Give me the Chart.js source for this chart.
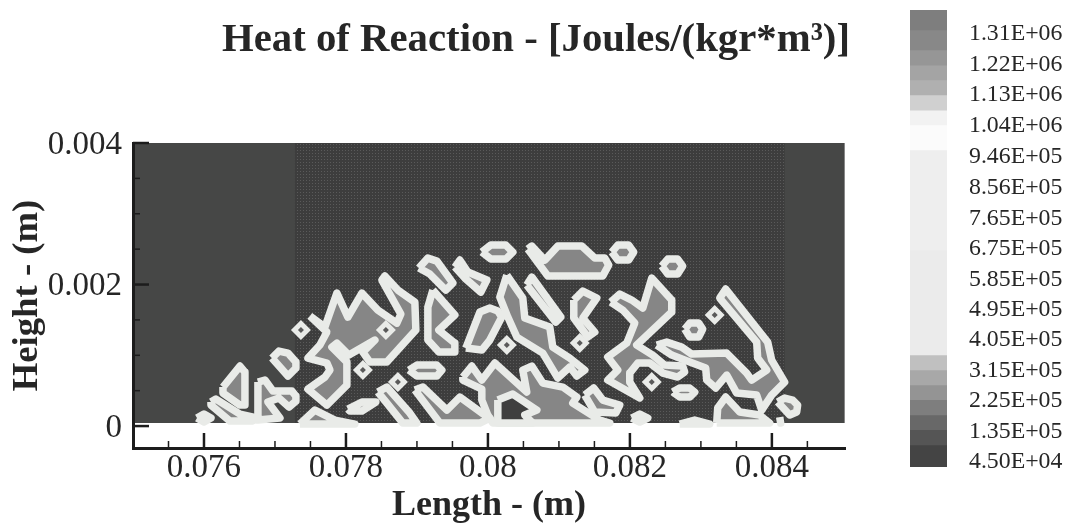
<!DOCTYPE html>
<html lang="en">
<head>
<meta charset="utf-8" />
<title>Heat of Reaction</title>
<script src="https://cdn.jsdelivr.net/npm/chart.js@4/dist/chart.umd.js"></script>
<style>
  html, body { margin: 0; background: #fff; }
  canvas { position: absolute; top: 0; filter: blur(0.5px); }
  #field { left: 0; }
  #bar { left: 910px; }
</style>
</head>
<body>
<canvas id="field" width="1076" height="524"></canvas>
<canvas id="bar" width="166" height="524"></canvas>
<script>
// axis values
const xTicks = [0.076, 0.078, 0.08, 0.082, 0.084];
const xTickLabels = ['0.076', '0.078', '0.08', '0.082', '0.084'];
const xMinor = [0.0755, 0.0765, 0.077, 0.0775, 0.0785, 0.079, 0.0795, 0.0805, 0.081, 0.0815, 0.0825, 0.083, 0.0835, 0.0845];
const yTicks = [0, 0.002, 0.004];
const yTickLabels = ['0', '0.002', '0.004'];
const yMinor = [0.0005, 0.001, 0.0015, 0.0025, 0.003, 0.0035];

// colour bar levels, top to bottom
const levels = [1310000, 1220000, 1130000, 1040000, 946000, 856000, 765000, 675000, 585000, 495000, 405000, 315000, 225000, 135000, 45000];
const levelLabels = ['1.31E+06', '1.22E+06', '1.13E+06', '1.04E+06', '9.46E+05', '8.56E+05', '7.65E+05', '6.75E+05', '5.85E+05', '4.95E+05', '4.05E+05', '3.15E+05', '2.25E+05', '1.35E+05', '4.50E+04'];
const bandEdges = [1378000, 1319000, 1260000, 1215000, 1171000, 1127000, 1082000, 1038000, 964000, 669000, 358000, 314000, 270000, 226000, 181000, 137000, 92000, 27000];
const bandColors = ['#7e7e7e', '#888888', '#969696', '#a4a4a4', '#b0b0b0', '#d0d0d0', '#f2f2f2', '#fbfbfb', '#eeeeee', '#ebebeb', '#c0c0c0', '#a8a8a8', '#949494', '#7e7e7e', '#686868', '#555555', '#444444'];

// contour field, in mesh steps from x=0.075, y=0
const stepX = 0.0001408;
const stepY = 0.0001413;

// contour outlines as flat i,j lists
const upperLeft = [
  [9,3.9, 10.7,6, 11.2,5.4, 11.2,2.1, 10.7,2.1, 9,3.3],
  [7.8,2.4, 8.3,2.7, 10.7,1.2, 12.5,.8, 11.9,.5, 9.7,.5, 7.8,2.1],
  [13.9,6.8, 14.6,7.5, 15.5,7.3, 16.3,6.4, 16.3,5.8, 15.5,5],
  [12.5,4.4, 13.2,4.6, 14,3.5, 15.9,3.5, 16.3,3, 16.3,2.5, 15.6,1.9, 14.6,2.8, 13.5,2.4, 14.7,.8, 12.5,.6],
  [17.7,11, 19.2,9.9, 20.4,13.3, 21.5,10.9, 22.9,13.3, 24.5,11.6, 26.4,10.3, 26.8,11.2, 24.9,14.6, 25.2,15, 26.5,13.6, 28.2,12.4, 28.3,9.6, 25.4,6.4, 23.7,6.4, 23,7.4, 24.2,8.6, 21.6,7.1, 20.4,8.3, 19.9,7.9, 21.4,6.4, 21.4,4.1, 19.4,2.1, 17.5,3.7, 19.2,4.9, 19.7,5.6, 19.4,6.3, 17.5,6.8, 18.7,8.1, 19.4,9.4],
  [21.5,1.7, 22.9,2.4, 24.3,2.4, 22.9,1.5, 21.7,1.5],
  [16.7,.2, 18.2,1.6, 20.2,.6, 22.2,.2],
  [24.5,3.4, 25.4,3.9, 27.7,1.3, 28.4,.3, 27,.3, 25.4,2.3],
  [28.2,3.6, 29,3.9, 31.4,1.6, 32.7,2.9, 34.9,1.3, 35.7,.8, 34.7,.3, 30.7,.3],
  [30,13.6, 32.2,11.1, 30.6,9.6, 32.2,8.3, 32.2,7.4, 30.6,7.4, 29.5,8.6, 29.5,11.9],
  [28.6,15.8, 29.5,16.8, 30.4,16.5, 32,14.3, 31.3,13.6, 29.7,15.2],
  [32.2,15.9, 32.7,16.6, 33.5,15.4, 35.4,14.6, 34.8,13.4, 33.2,14.8],
  [27.6,5.6, 28.4,6.1, 30.4,6.1, 30.9,5.6, 30.4,5, 28.4,5],
  [6.4,.8, 7.1,1.2, 7.8,.8, 7.1,.4]
];
const middle = [
  [34.9,17.4, 35.8,18.1, 37.3,18.1, 38,17.4, 37.3,16.7, 35.8,16.7],
  [39.5,17.7, 39.9,18, 41.2,16.6, 42.5,18, 44.9,18, 46.2,16.8, 47.2,16.8, 47.6,16.1, 47,15, 41.5,15],
  [47.9,17.4, 48.5,18.1, 49.6,18.1, 50.1,17.4, 49.6,16.6, 48.5,16.6],
  [37.4,15.1, 39,12.8, 39.2,10.8, 41.7,9.9, 42,7.9, 43.7,6.8, 45.2,5.6, 44.4,5, 43.7,5.9, 42.5,4.8, 41,7.3, 38.4,8.9, 37.5,10.9, 36.7,12.9],
  [39.4,14.1, 39.9,14.9, 42.8,10.9, 42.3,10.4],
  [44.1,12.6, 45,13.5, 46.4,12.8, 45,10.8, 46.2,9.4, 45.5,8.9, 44.1,10.8],
  [33.3,7.8, 34.7,11.4, 35.7,11.8, 36.5,11.5, 36.9,10.9, 35.7,8.6, 34.9,7.6],
  [33,4.9, 33.9,6, 34.9,4.6, 36.2,6.3, 39.4,3.4, 39,5.6, 39.9,6, 41,4.3, 43,3.9, 44.4,2.9, 44,2.3, 46.7,.6, 47.7,.3, 36,.3, 35.5,1.1, 34.9,2.6, 34.9,3.7, 33,4.6],
  [45.2,3.1, 46.1,3.8, 47,2.6, 48.7,2.1, 48.3,1.3, 46.2,1.4]
];
const rightSide = [
  [47.8,12.4, 48.7,13.2, 49.9,12.6, 51,11.8, 51.9,14.8, 53.9,12.6, 53.9,11.4, 50.4,8.1, 52,7.1, 53.2,6.1, 55,6, 55.2,5.4, 54.5,4.9, 53,5.3, 51.7,6.3, 50.5,6.3, 49.7,5.3, 49.7,4.4, 50.7,2.8, 47.5,4.6, 48.5,5.6, 47.5,6.9, 49.4,8.3, 50.2,10.3, 49,11.6],
  [52.9,16, 53.5,16.7, 54.5,16.7, 55,16, 54.5,15.2, 53.5,15.2],
  [54,3.4, 54.7,3.8, 55.7,3.8, 56.2,3.4, 55.7,2.9, 54.7,2.9],
  [55.2,9.7, 55.7,10.3, 56.6,10.3, 57,9.7, 56.6,8.9, 55.7,8.9],
  [52.4,8.1, 53.4,8.4, 54.9,7.9, 55.9,7.2, 59.4,7.3, 61.4,5.3, 61.9,4.6, 63.4,5.6, 62.5,6.8, 62.4,8.4, 58.7,12.8, 59.3,13.7, 63.5,8.4, 63.9,6.6, 65.2,4.4, 63.9,3.1, 62.9,1.6, 62.4,3.1, 60.4,3.3, 59.4,5.1, 58.3,3.8, 57.4,4.6, 57.3,5.8, 55.7,6.4, 53.9,7.1],
  [58.4,.3, 58.5,1.8, 59.3,2.9, 60.7,1.4, 62.7,1.1, 63.7,.3],
  [64.5,2.4, 65.2,2.8, 66,2.6, 66.5,2.1, 66.4,1.4, 65.7,1.1],
  [49.9,.8, 50.7,1.2, 51.5,.8, 50.7,.4],
  [54.7,.2, 56.2,.6, 57.7,.2],
  [64.7,.9, 64.8,.3]
];
const lowPockets = [
  [36.5,2.6, 38,3.2, 40.4,1.6, 39.2,1.1, 40,.3, 36.5,.3]
];
const peaks = [16.8,9.6, 23,5.6, 25.3,9.6, 26.5,4.4, 44.7,8.3, 37.4,8.1, 51.9,4.4, 58.2,11.1];
const background = [0,.3, 71.2,.3, 71.2,28.3, 0,28.3];
const halftone = [16.2,.3, 65.2,.3, 65.2,28.3, 16.2,28.3];

const ink = '#262626';
const serif = 'Liberation Serif';

function toPoints(list) {
  const pts = [];
  for (let k = 0; k < list.length; k += 2) {
    pts.push({ x: 0.075 + list[k] * stepX, y: list[k + 1] * stepY });
  }
  pts.push(pts[0]);
  return pts;
}

function contour(list, fillColor) {
  return { data: toPoints(list), showLine: true, fill: 'shape', backgroundColor: fillColor,
    borderColor: '#e9ebe8', borderWidth: 7.5, borderJoinStyle: 'round', tension: 0, pointRadius: 0 };
}

function panel(list, fillColor) {
  return { data: toPoints(list), showLine: true, fill: 'shape', backgroundColor: fillColor,
    borderWidth: 0, pointRadius: 0 };
}

function peakPoints(radius, color) {
  const pts = toPoints(peaks).slice(0, -1);
  return { data: pts, pointStyle: 'rectRot', pointRadius: radius, backgroundColor: color, borderWidth: 0 };
}

// little halftone dot tile for the scanned middle part
const tile = document.createElement('canvas');
tile.width = 3; tile.height = 3;
const tc = tile.getContext('2d');
tc.fillStyle = '#3d3d3d';
tc.fillRect(0, 0, 3, 3);
tc.fillStyle = '#5a5a5a';
tc.fillRect(0, 0, 1, 1);
const dots = tc.createPattern(tile, 'repeat');

const grey = '#868686';
const fieldSets = [
  peakPoints(3, '#5a5a5a'),
  peakPoints(10, '#e9ebe8')
];
lowPockets.forEach(p => fieldSets.push(contour(p, '#3f3f3f')));
upperLeft.concat(middle, rightSide).forEach(p => fieldSets.push(contour(p, grey)));
fieldSets.push(panel(halftone, dots));
fieldSets.push(panel(background, '#464746'));

// inward ticks, the library only draws them outward
const innerTicks = {
  id: 'innerTicks',
  afterDatasetsDraw(chart) {
    const { ctx, scales: { x, y } } = chart;
    const area = chart.chartArea;
    ctx.save();
    ctx.strokeStyle = '#1c1c1c';
    const mark = (x0, y0, x1, y1, w) => {
      ctx.lineWidth = w;
      ctx.beginPath();
      ctx.moveTo(x0, y0);
      ctx.lineTo(x1, y1);
      ctx.stroke();
    };
    xTicks.forEach(v => mark(x.getPixelForValue(v), area.bottom, x.getPixelForValue(v), area.bottom - 15, 2.5));
    xMinor.forEach(v => mark(x.getPixelForValue(v), area.bottom, x.getPixelForValue(v), area.bottom - 7, 1.5));
    yTicks.forEach(v => mark(area.left, y.getPixelForValue(v), area.left + 16, y.getPixelForValue(v), 2.5));
    yMinor.forEach(v => mark(area.left, y.getPixelForValue(v), area.left + 7, y.getPixelForValue(v), 1.5));
    ctx.restore();
  },
  afterLayout(chart) {
    // title is centred over plot + colour bar gap, not over the plot
    chart.titleBlock.left = 222;
    chart.titleBlock.right = 850;
  }
};

new Chart(document.getElementById('field'), {
  type: 'scatter',
  data: { datasets: fieldSets },
  plugins: [innerTicks],
  options: {
    responsive: false,
    animation: false,
    events: [],
    layout: { padding: { right: 231 } },
    plugins: {
      legend: { display: false },
      tooltip: { enabled: false },
      title: {
        display: true,
        text: 'Heat of Reaction - [Joules/(kgr*m³)]',
        color: ink,
        font: { family: serif, size: 41, weight: 'bold' },
        padding: { top: 16, bottom: 77.8 }
      }
    },
    scales: {
      x: {
        type: 'linear',
        min: 0.075,
        max: 0.08503,
        afterFit(s) { s.height = 76; },
        afterBuildTicks(s) { s.ticks = xTicks.map(v => ({ value: v })); },
        grid: { display: false, drawTicks: false },
        border: { color: '#1c1c1c', width: 3, z: 2 },
        ticks: {
          color: ink,
          padding: 1,
          maxRotation: 0,
          autoSkip: false,
          font: { family: serif, size: 33 },
          callback: v => xTickLabels[xTicks.indexOf(v)]
        },
        title: {
          display: true,
          text: 'Length - (m)',
          color: ink,
          font: { family: serif, size: 36, weight: 'bold', lineHeight: 1 },
          padding: { top: 0, bottom: 0 }
        }
      },
      y: {
        type: 'linear',
        min: -0.00031,
        max: 0.004,
        afterFit(s) { s.width = 133; },
        afterBuildTicks(s) { s.ticks = yTicks.map(v => ({ value: v })); },
        grid: { display: false, drawTicks: false },
        border: { color: '#1c1c1c', width: 3, z: 2 },
        ticks: {
          color: ink,
          padding: 11,
          labelOffset: 2,
          autoSkip: false,
          font: { family: serif, size: 33 },
          callback: v => yTickLabels[yTicks.indexOf(v)]
        },
        title: {
          display: true,
          text: 'Height - (m)',
          color: ink,
          font: { family: serif, size: 36.7, weight: 'bold' },
          padding: { top: 6, bottom: 0 }
        }
      }
    }
  }
});

// colour bar is its own small chart on a value axis
new Chart(document.getElementById('bar'), {
  type: 'bar',
  data: {
    labels: ['level'],
    datasets: bandColors.map((c, k) => ({
      data: [[bandEdges[k + 1], bandEdges[k]]],
      backgroundColor: c,
      borderWidth: 0,
      grouped: false,
      barPercentage: 1,
      categoryPercentage: 1
    }))
  },
  options: {
    responsive: false,
    animation: false,
    events: [],
    layout: { padding: { top: 10, bottom: 57 } },
    plugins: { legend: { display: false }, tooltip: { enabled: false } },
    scales: {
      x: { display: false },
      y: {
        position: 'right',
        min: 27000,
        max: 1378000,
        afterFit(s) { s.width = 129; s.paddingTop = 0; s.paddingBottom = 0; },
        afterBuildTicks(s) { s.ticks = levels.map(v => ({ value: v })); },
        grid: { display: false, drawTicks: false },
        border: { display: false },
        ticks: {
          color: ink,
          padding: 22,
          labelOffset: 1,
          autoSkip: false,
          font: { family: serif, size: 23.8 },
          callback: v => levelLabels[levels.indexOf(v)]
        }
      }
    }
  }
});
</script>
</body>
</html>
